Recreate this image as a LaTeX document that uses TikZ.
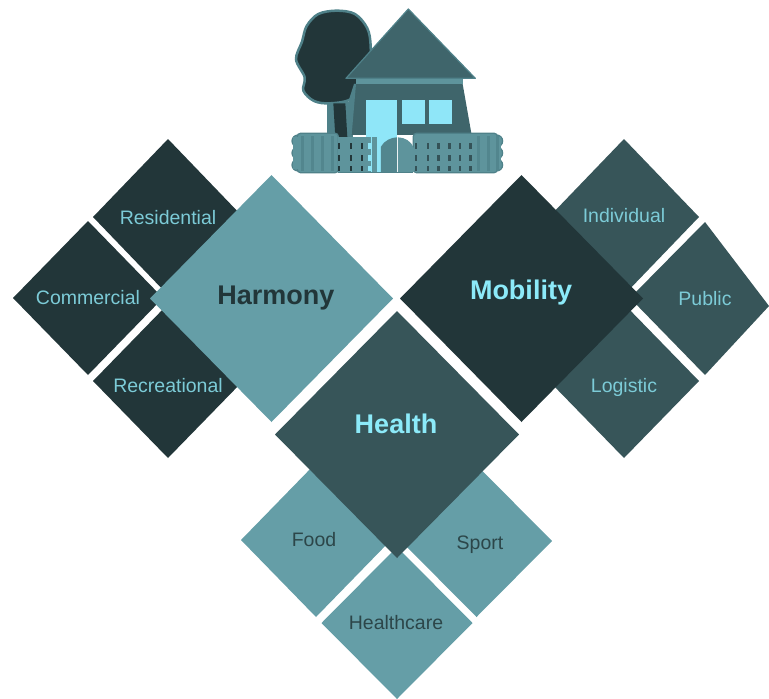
\documentclass[tikz,border=0pt]{standalone}
\usepackage{fontspec}
\setmainfont{Liberation Sans}
\definecolor{darkT}{HTML}{223639}
\definecolor{midT}{HTML}{375559}
\definecolor{lightT}{HTML}{659EA7}
\definecolor{cyanT}{HTML}{7CCBD7}
\definecolor{cyanB}{HTML}{8CEAF9}
\definecolor{roofT}{HTML}{3F656B}
\definecolor{edgeT}{HTML}{4F8189}
\definecolor{fenceT}{HTML}{5E949C}
\definecolor{stripT}{HTML}{52868E}
\definecolor{winT}{HTML}{8FE6F8}
\tikzset{
  lab/.style={font=\fontsize{19.5}{21}\selectfont,inner sep=0pt},
  big/.style={font=\bfseries\fontsize{27}{29}\selectfont,inner sep=0pt},
  dk/.style={fill=darkT},
  md/.style={fill=midT},
  lt/.style={fill=lightT},
  gapcell/.style={fill=darkT},
  gapsoft/.style={fill=darkT!70!fenceT},
  fenceedge/.style={fill=fenceT,draw=edgeT,line width=1.2pt},
}
\newcommand{\dia}[5][]{\fill[#1] (#2-#4,#3) -- (#2,#3-#5) -- (#2+#4,#3) -- (#2,#3+#5) -- cycle;}
\begin{document}
\begin{tikzpicture}[x=1pt,y=-1pt]
\useasboundingbox (0,0) rectangle (769,699);
% left group
\dia[dk]{168}{217}{75}{78}
\dia[dk]{88}{298}{75}{77}
\dia[dk]{168}{381}{75}{77}
\dia[lt]{271.5}{298.5}{121.5}{123.5}
% right group
\dia[md]{624}{217}{75}{78}
\fill[md] (630,298) -- (705,222) -- (769,306) -- (705,375) -- cycle;
\dia[md]{624}{381}{75}{77}
\dia[dk]{521.5}{298.5}{121.5}{123.5}
% bottom group
\dia[lt]{316}{540}{75}{77}
\dia[lt]{476.5}{541}{75.5}{76}
\dia[lt]{397}{623}{75.5}{76}
\dia[md]{397}{434.5}{122}{123.5}
% labels
\node[lab,text=cyanT] (residential) at (168,217.5) {Residential};
\node[lab,text=cyanT] (commercial) at (88,297.5) {Commercial};
\node[lab,text=cyanT] (recreational) at (168,385.5) {Recreational};
\node[big,text=darkT] (harmony) at (276,298) {Harmony};
\node[big,text=cyanB] (mobility) at (521,293) {Mobility};
\node[big,text=cyanB] (health) at (396,424) {Health};
\node[lab,text=cyanT] (individual) at (624,216) {Individual};
\node[lab,text=cyanT] (public) at (705,298.5) {Public};
\node[lab,text=cyanT] (logistic) at (624,387) {Logistic};
\node[lab,text=darkT!85!lightT] (food) at (314,539.5) {Food};
\node[lab,text=darkT!85!lightT] (sport) at (480,545) {Sport};
\node[lab,text=darkT!85!lightT] (healthcare) at (396,623) {Healthcare};
% house
\begin{scope}[shift={(280,0)},x=0.3333pt,y=-0.3333pt]
  % tree
  \fill[edgeT] (142,305) rectangle (218,410);
  \draw[edgeT,line width=2.5pt,fill=darkT,smooth cycle,tension=0.55]
    plot coordinates {(170,32) (225,42) (262,85) (272,140) (268,235) (215,296) (150,310)
    (102,303) (70,272) (74,232) (48,178) (66,125) (80,78) (115,42)};
  \fill[darkT] (160,310) -- (196,310) -- (202,412) -- (166,412) -- cycle;
  % house body
  \fill[roofT] (222,252) -- (548,252) -- (575,405) -- (208,405) -- cycle;
  \fill[fenceT] (228,236) rectangle (550,253);
  \fill[edgeT] (205,305) -- (222,252) -- (228,252) -- (215,405) -- (205,405) -- cycle;
  \filldraw[fill=roofT,draw=edgeT,line width=1.2pt,line join=round]
    (385,27) -- (586,235) -- (198,235) -- cycle;
  % door and windows
  \fill[winT] (258,300) rectangle (350,515);
  \fill[winT] (365,300) rectangle (436,372);
  \fill[winT] (446,300) rectangle (516,372);
  % fence scallops at both ends
  \foreach \sy in {423,459,495} {
    \filldraw[fenceedge] (54,\sy) circle[radius=6pt];
    \filldraw[fenceedge] (650,\sy) circle[radius=6pt];
  }
  % fence hedge
  \filldraw[fenceedge,rounded corners=3pt]
    (52,400) -- (175,400) -- (175,518) -- (52,518) -- cycle;
  \filldraw[fenceedge,rounded corners=3pt]
    (400,400) -- (652,400) -- (652,518) -- (400,518) -- cycle;
  \fill[fenceT] (40,412) rectangle (60,506);
  \fill[fenceT] (640,412) rectangle (664,506);
  \foreach \sx in {62,92,122,152,590,620,648}
    \fill[stripT] (\sx,408) rectangle (\sx+9,512);
  \fill[fenceT] (175,412) rectangle (258,518);
  \fill[fenceT] (258,412) rectangle (272,518);
  \fill[fenceT] (276,412) rectangle (292,518);
  \fill[edgeT] (175,516) rectangle (400,519);
  % gaps between pickets
  \foreach \gy in {430,465,497} {
    \foreach \gx in {173,209,243} \fill[gapcell] (\gx,\gy) rectangle (\gx+7,\gy+17);
    \foreach \gx in {405,440,472,505,537,568} \fill[gapsoft] (\gx,\gy) rectangle (\gx+7,\gy+17);
    \fill[winT] (265,\gy) rectangle (272,\gy+17);
    \fill[winT] (293,\gy) rectangle (300,\gy+17);
  }
  % gate
  \fill[stripT] (303,516) -- (303,440) .. controls (312,422) and (335,412) .. (351,412) -- (351,516) -- cycle;
  \fill[fenceT] (354,516) -- (354,412) .. controls (375,412) and (395,425) .. (402,445) -- (402,516) -- cycle;
\end{scope}
\end{tikzpicture}
\end{document}
